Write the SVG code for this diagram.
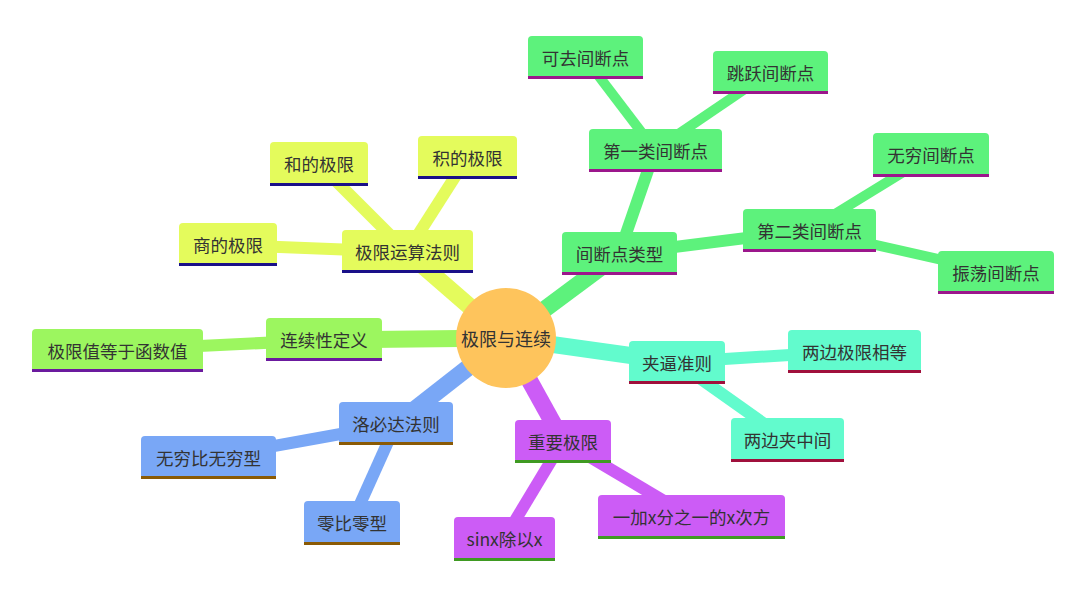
<svg xmlns="http://www.w3.org/2000/svg" width="1080" height="604" viewBox="0 0 1080 604">
<style>
text{font-family:"Noto Sans CJK SC","Noto Sans",sans-serif;font-size:17.5px;fill:#333;text-anchor:middle;dominant-baseline:central}
.c{fill:none;stroke-linecap:butt}
.g{fill:#5df27c}.gs{stroke:#5df27c}.gu{fill:#9c168c}
.y{fill:#e4fb5c}.ys{stroke:#e4fb5c}.yu{fill:#1a1088}
.l{fill:#9cf65f}.ls{stroke:#9cf65f}.lu{fill:#6b1a9e}
.b{fill:#79a7f6}.bs{stroke:#79a7f6}.bu{fill:#8a5a05}
.p{fill:#cc5cf6}.ps{stroke:#cc5cf6}.pu{fill:#3f9a22}
.t{fill:#62fbcd}.ts{stroke:#62fbcd}.tu{fill:#a0103c}
</style>
<rect width="1080" height="604" fill="#fff"/>
<g id="connectors" class="c">
  <line class="gs" x1="506" y1="338" x2="619" y2="254" stroke-width="17"/>
  <line class="ys" x1="506" y1="338" x2="407" y2="252" stroke-width="17"/>
  <line class="ls" x1="506" y1="338" x2="324" y2="340" stroke-width="17"/>
  <line class="bs" x1="506" y1="338" x2="396" y2="424" stroke-width="17"/>
  <line class="ps" x1="506" y1="338" x2="563" y2="441" stroke-width="17"/>
  <line class="ts" x1="506" y1="338" x2="677" y2="362" stroke-width="17"/>
  <line class="gs" x1="619" y1="254" x2="655" y2="150" stroke-width="12"/>
  <line class="gs" x1="619" y1="254" x2="809" y2="230" stroke-width="12"/>
  <line class="gs" x1="655" y1="150" x2="585" y2="58" stroke-width="10"/>
  <line class="gs" x1="655" y1="150" x2="770" y2="72" stroke-width="10"/>
  <line class="gs" x1="809" y1="230" x2="931" y2="155" stroke-width="10"/>
  <line class="gs" x1="809" y1="230" x2="996" y2="272" stroke-width="10"/>
  <line class="ys" x1="407" y1="252" x2="319" y2="164" stroke-width="12"/>
  <line class="ys" x1="407" y1="252" x2="467" y2="158" stroke-width="12"/>
  <line class="ys" x1="407" y1="252" x2="228" y2="245" stroke-width="12"/>
  <line class="ls" x1="324" y1="340" x2="117" y2="350" stroke-width="12"/>
  <line class="bs" x1="396" y1="424" x2="208" y2="458" stroke-width="12"/>
  <line class="bs" x1="396" y1="424" x2="352" y2="522" stroke-width="12"/>
  <line class="ps" x1="563" y1="441" x2="504" y2="539" stroke-width="12"/>
  <line class="ps" x1="563" y1="441" x2="691" y2="517" stroke-width="12"/>
  <line class="ts" x1="677" y1="362" x2="854" y2="351" stroke-width="12"/>
  <line class="ts" x1="677" y1="362" x2="787" y2="440" stroke-width="12"/>
</g>
<g id="center"><circle cx="506" cy="338" r="50" fill="#fec45c"/><text x="506" y="338" style="font-size:18px">极限与连续</text></g>

<g id="n-jdd"><rect class="g" x="562" y="232" width="115" height="43" rx="4"/><rect class="gu" x="562" y="272" width="115" height="3"/><text x="619.5" y="253">间断点类型</text></g>
<g id="n-d1"><rect class="g" x="589" y="129" width="133" height="43" rx="4"/><rect class="gu" x="589" y="169" width="133" height="3"/><text x="655.5" y="150">第一类间断点</text></g>
<g id="n-kq"><rect class="g" x="528" y="36" width="115" height="43" rx="4"/><rect class="gu" x="528" y="76" width="115" height="3"/><text x="585.5" y="57">可去间断点</text></g>
<g id="n-ty"><rect class="g" x="713" y="51" width="115" height="43" rx="4"/><rect class="gu" x="713" y="91" width="115" height="3"/><text x="770.5" y="72">跳跃间断点</text></g>
<g id="n-d2"><rect class="g" x="743" y="209" width="133" height="43" rx="4"/><rect class="gu" x="743" y="249" width="133" height="3"/><text x="809.5" y="230">第二类间断点</text></g>
<g id="n-wq"><rect class="g" x="873" y="133" width="116" height="44" rx="4"/><rect class="gu" x="873" y="174" width="116" height="3"/><text x="931" y="154">无穷间断点</text></g>
<g id="n-zd"><rect class="g" x="938" y="251" width="116" height="43" rx="4"/><rect class="gu" x="938" y="291" width="116" height="3"/><text x="996" y="272">振荡间断点</text></g>

<g id="n-ys"><rect class="y" x="342" y="230" width="131" height="43" rx="4"/><rect class="yu" x="342" y="270" width="131" height="3"/><text x="407.5" y="251">极限运算法则</text></g>
<g id="n-he"><rect class="y" x="270" y="142" width="98" height="44" rx="4"/><rect class="yu" x="270" y="183" width="98" height="3"/><text x="319" y="163">和的极限</text></g>
<g id="n-ji"><rect class="y" x="418" y="136" width="99" height="43" rx="4"/><rect class="yu" x="418" y="176" width="99" height="3"/><text x="467.5" y="157">积的极限</text></g>
<g id="n-sh"><rect class="y" x="179" y="223" width="98" height="43" rx="4"/><rect class="yu" x="179" y="263" width="98" height="3"/><text x="228" y="244">商的极限</text></g>

<g id="n-lx"><rect class="l" x="266" y="318" width="116" height="43" rx="4"/><rect class="lu" x="266" y="358" width="116" height="3"/><text x="324" y="339">连续性定义</text></g>
<g id="n-jxz"><rect class="l" x="32" y="329" width="171" height="43" rx="4"/><rect class="lu" x="32" y="369" width="171" height="3"/><text x="117.5" y="350">极限值等于函数值</text></g>

<g id="n-lbd"><rect class="b" x="339" y="402" width="114" height="43" rx="4"/><rect class="bu" x="339" y="442" width="114" height="3"/><text x="396" y="423">洛必达法则</text></g>
<g id="n-wbw"><rect class="b" x="141" y="436" width="135" height="43" rx="4"/><rect class="bu" x="141" y="476" width="135" height="3"/><text x="208.5" y="457">无穷比无穷型</text></g>
<g id="n-lbl"><rect class="b" x="304" y="501" width="96" height="44" rx="4"/><rect class="bu" x="304" y="542" width="96" height="3"/><text x="352" y="522">零比零型</text></g>

<g id="n-zy"><rect class="p" x="515" y="420" width="96" height="43" rx="4"/><rect class="pu" x="515" y="460" width="96" height="3"/><text x="563" y="441">重要极限</text></g>
<g id="n-yj"><rect class="p" x="598" y="495" width="187" height="44" rx="4"/><rect class="pu" x="598" y="536" width="187" height="3"/><text x="691.5" y="516">一加x分之一的x次方</text></g>
<g id="n-sin"><rect class="p" x="454" y="517" width="101" height="44" rx="4"/><rect class="pu" x="454" y="558" width="101" height="3"/><text x="504.5" y="538">sinx除以x</text></g>

<g id="n-jb"><rect class="t" x="629" y="341" width="96" height="43" rx="4"/><rect class="tu" x="629" y="381" width="96" height="3"/><text x="677" y="362">夹逼准则</text></g>
<g id="n-lbjx"><rect class="t" x="788" y="330" width="133" height="43" rx="4"/><rect class="tu" x="788" y="370" width="133" height="3"/><text x="854.5" y="351">两边极限相等</text></g>
<g id="n-lbj"><rect class="t" x="731" y="418" width="113" height="44" rx="4"/><rect class="tu" x="731" y="459" width="113" height="3"/><text x="787.5" y="439">两边夹中间</text></g>
</svg>
